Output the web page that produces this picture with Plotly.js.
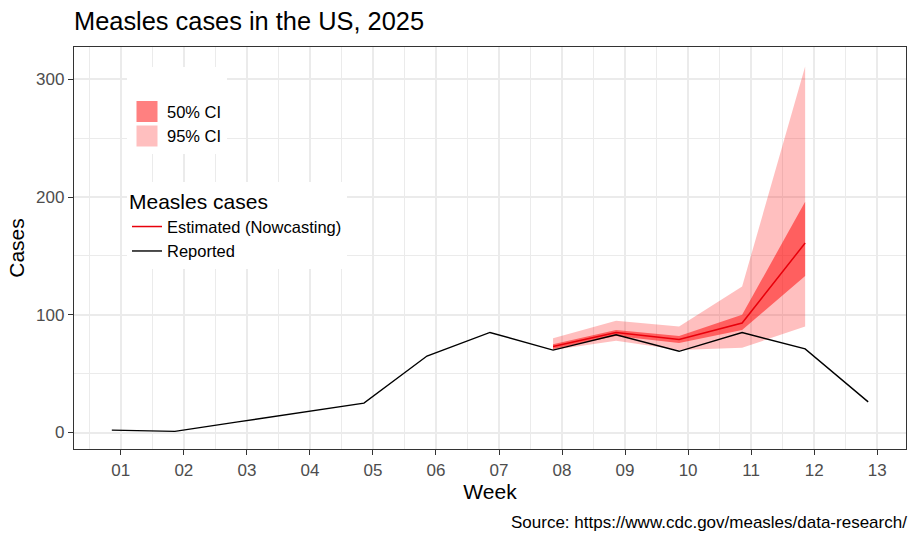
<!DOCTYPE html>
<html>
<head>
<meta charset="utf-8">
<script src="https://cdn.plot.ly/plotly-3.0.1.min.js"></script>
<style>
  html, body { margin: 0; padding: 0; background: #fff; }
  #chart { width: 917px; height: 541px; }
</style>
</head>
<body>
<div id="chart"></div>
<script>
// ---- Data ----
// Start date (Sunday) of each reporting week
const weekStart = ['2024-12-29','2025-01-05','2025-01-12','2025-01-19','2025-01-26','2025-02-02',
                   '2025-02-09','2025-02-16','2025-02-23','2025-03-02','2025-03-09','2025-03-16','2025-03-23'];
// Reported cases per week
const reported = [2, 1, 9, 17, 25, 65, 85, 70, 83, 69, 85, 71, 26];

// Nowcast weeks (weeks 08-12)
const nowcastWeeks = ['2025-02-16','2025-02-23','2025-03-02','2025-03-09','2025-03-16'];
const estimated  = [73, 85, 79, 93, 161];
const ci50Lower  = [71, 82, 76, 87, 133];
const ci50Upper  = [75, 87, 82, 100, 196];
const ci95Lower  = [70, 78, 70, 72, 90];
const ci95Upper  = [80, 95, 90, 124, 311];

// Week ticks (ISO week Mondays) and labels
const tickDates  = ['2024-12-30','2025-01-06','2025-01-13','2025-01-20','2025-01-27','2025-02-03',
                    '2025-02-10','2025-02-17','2025-02-24','2025-03-03','2025-03-10','2025-03-17','2025-03-24'];
const weekLabels = ['01','02','03','04','05','06','07','08','09','10','11','12','13'];
const yTicks = [0, 100, 200, 300];

// ---- Styles ----
const FONT = 'Liberation Sans, Arial, Helvetica, sans-serif';
const fill95 = 'rgba(255,0,0,0.25)';
const fill50 = 'rgba(255,0,0,0.5)';
const key95 = '#FFBFBF';   // fill95 on white
const key50 = '#FF8080';   // fill50 on white

const traces = [
  // 95% CI band
  { x: nowcastWeeks, y: ci95Lower, type: 'scatter', mode: 'lines', line: { width: 0 },
    showlegend: false, hoverinfo: 'skip', legendgroup: 'ci95' },
  { x: nowcastWeeks, y: ci95Upper, type: 'scatter', mode: 'lines', line: { width: 0 },
    fill: 'tonexty', fillcolor: fill95, showlegend: false, legendgroup: 'ci95' },
  // 50% CI band
  { x: nowcastWeeks, y: ci50Lower, type: 'scatter', mode: 'lines', line: { width: 0 },
    showlegend: false, hoverinfo: 'skip', legendgroup: 'ci50' },
  { x: nowcastWeeks, y: ci50Upper, type: 'scatter', mode: 'lines', line: { width: 0 },
    fill: 'tonexty', fillcolor: fill50, showlegend: false, legendgroup: 'ci50' },
  // Legend keys for the CI bands (no data drawn)
  { x: [null], y: [null], type: 'scatter', mode: 'markers', name: '50% CI', legend: 'legend',
    legendgroup: 'ci50', marker: { symbol: 'square', size: 16, color: key50, line: { width: 5, color: key50 } } },
  { x: [null], y: [null], type: 'scatter', mode: 'markers', name: '95% CI', legend: 'legend',
    legendgroup: 'ci95', marker: { symbol: 'square', size: 16, color: key95, line: { width: 5, color: key95 } } },
  // Lines
  { x: nowcastWeeks, y: estimated, type: 'scatter', mode: 'lines', name: 'Estimated (Nowcasting)',
    legend: 'legend2', line: { color: '#E8000B', width: 1.5 } },
  { x: weekStart, y: reported, type: 'scatter', mode: 'lines', name: 'Reported',
    legend: 'legend2', line: { color: '#000000', width: 1.4 } }
];

const axisCommon = {
  showline: true, linecolor: '#333333', linewidth: 1.3, mirror: true,
  ticks: 'outside', ticklen: 5, tickwidth: 1.3, tickcolor: '#333333',
  tickfont: { family: FONT, size: 17, color: '#4D4D4D' },
  gridcolor: '#EBEBEB', gridwidth: 1.6, zeroline: false
};

const layout = {
  width: 917, height: 541,
  margin: { l: 74, r: 11, t: 47, b: 92 },
  paper_bgcolor: '#FFFFFF', plot_bgcolor: '#FFFFFF',
  font: { family: FONT, color: '#000000' },
  title: {
    text: 'Measles cases in the US, 2025',
    font: { family: FONT, size: 25.4, color: '#000000' },
    xref: 'container', x: 74 / 917, xanchor: 'left',
    yref: 'container', y: 1 - 21 / 541, yanchor: 'middle'
  },
  xaxis: Object.assign({}, axisCommon, {
    type: 'date',
    range: ['2024-12-24 19:12', '2025-03-27 04:48'],
    tickmode: 'array', tickvals: tickDates, ticktext: weekLabels,
    title: { text: 'Week', font: { family: FONT, size: 21, color: '#000000' }, standoff: 4 },
    minor: { tickmode: 'linear', tick0: '2025-01-02 12:00', dtick: 7 * 86400000,
             showgrid: true, gridcolor: '#EBEBEB', gridwidth: 0.8, ticks: '' }
  }),
  yaxis: Object.assign({}, axisCommon, {
    range: [-14, 327.5],
    tickmode: 'array', tickvals: yTicks,
    title: { text: 'Cases', font: { family: FONT, size: 21, color: '#000000' }, standoff: 5 },
    minor: { tickmode: 'linear', tick0: 0, dtick: 50,
             showgrid: true, gridcolor: '#EBEBEB', gridwidth: 0.8, ticks: '' }
  }),
  legend: {
    x: (127 - 74) / 832, y: (449 - 67) / 402, xanchor: 'left', yanchor: 'top',
    bgcolor: '#FFFFFF', borderwidth: 0,
    font: { family: FONT, size: 16.5, color: '#000000' },
    title: { text: ' ', font: { family: FONT, size: 21 } },
    traceorder: 'normal', itemclick: false, itemdoubleclick: false
  },
  legend2: {
    x: (127 - 74) / 832, y: (449 - 182) / 402, xanchor: 'left', yanchor: 'top',
    bgcolor: '#FFFFFF', borderwidth: 0,
    font: { family: FONT, size: 16.5, color: '#000000' },
    title: { text: 'Measles cases', font: { family: FONT, size: 21, color: '#000000' } },
    traceorder: 'normal', itemclick: false, itemdoubleclick: false
  },
  annotations: [{
    text: 'Source: https://www.cdc.gov/measles/data-research/',
    xref: 'paper', yref: 'paper', x: 1, y: (449 - 522) / 402, xshift: 3,
    xanchor: 'right', yanchor: 'middle', showarrow: false,
    font: { family: FONT, size: 17, color: '#000000' }
  }],
  showlegend: true
};

Plotly.newPlot('chart', traces, layout, { displayModeBar: false, responsive: false });
</script>
</body>
</html>
